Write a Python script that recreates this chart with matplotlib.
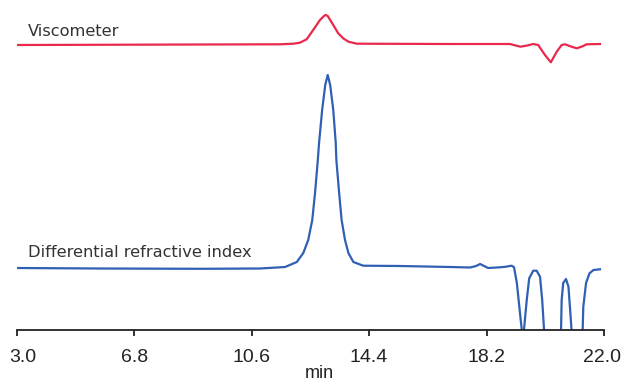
import matplotlib.pyplot as plt
from matplotlib.transforms import ScaledTranslation

# retention time (min) and detector response (arbitrary units)
ri_time = [3.00, 5.69, 8.92, 10.87, 11.68, 12.06, 12.27, 12.43, 12.56, 12.65,
           12.74, 12.78, 12.88, 12.98, 13.06, 13.14, 13.24, 13.32, 13.34,
           13.43, 13.51, 13.62, 13.73, 13.89, 14.21, 15.40, 17.02, 17.67,
           17.86, 17.99, 18.12, 18.25, 18.64, 18.83, 19.01, 19.09, 19.18,
           19.26, 19.34, 19.38, 19.41, 19.50, 19.58, 19.71, 19.82, 19.93,
           20.00, 20.06, 20.09, 20.58, 20.61, 20.63, 20.68, 20.77, 20.85,
           20.92, 20.95, 20.98, 21.28, 21.31, 21.33, 21.42, 21.53, 21.66,
           21.87]
ri_signal = [63, 62.5, 62.2, 62.5, 64, 69, 78, 91, 111, 138,
             171, 188, 221, 246, 256, 246, 221, 188, 171,
             138, 111, 91, 78, 69, 65.3, 65, 64, 63.5,
             65, 67, 65, 63, 63.7, 64.3, 65.3, 63.7, 48,
             24.3, 1, -20, 1, 31, 52.7, 60.3, 60.3, 54.3,
             31, 1, -20, -20, 1, 31, 48, 52, 44.3,
             14.3, 1, -20, -20, 1, 24.3, 48, 57.7, 61,
             61.7]

visc_time = [3.00, 8.92, 11.52, 11.95, 12.16, 12.38, 12.59, 12.81, 12.95,
             13.00, 13.06, 13.24, 13.40, 13.56, 13.73, 14.00, 17.02, 18.64,
             18.96, 19.29, 19.52, 19.71, 19.87, 20.09, 20.28, 20.47, 20.63,
             20.74, 20.93, 21.12, 21.29, 21.44, 21.87]
visc_signal = [286, 286.5, 286.7, 287.3, 288.3, 291.7, 301, 311, 315.3,
               316, 315, 306, 297.7, 292.7, 289.3, 287.3, 287, 287,
               287, 284.3, 285.5, 287, 286, 276, 268.7, 279.3, 286,
               286.7, 284.5, 282.7, 284.5, 286.7, 287]

tick_vals = [3.0, 6.8, 10.6, 14.4, 18.2, 22.0]
tick_labels = ['3.0', '6.8', '10.6', '14.4', '18.2', '22.0']

fig = plt.figure(figsize=(6.23, 3.81), dpi=100)
ax = fig.add_axes([16.8 / 623, 51 / 381, 587.2 / 623, 325 / 381])

ax.plot(visc_time, visc_signal, color='#e8294c', lw=1.6)
ax.plot(ri_time, ri_signal, color='#2f60b3', lw=1.6)

ax.set_xlim(3.0, 22.0)
ax.set_ylim(1, 326)

ax.text(3.37, 295, 'Viscometer', fontsize=11.7, color='#333333')
ax.text(3.37, 74, 'Differential refractive index', fontsize=11.7, color='#333333')

for s in ['left', 'top', 'right']:
    ax.spines[s].set_visible(False)
ax.spines['bottom'].set_linewidth(1.3)
ax.spines['bottom'].set_color('#222222')
ax.set_yticks([])
ax.set_xticks(tick_vals)
ax.set_xticklabels(tick_labels, fontsize=14, family='Liberation Sans', color='#222222')
ax.tick_params(axis='x', length=4.5, width=1.3, color='#222222', pad=9)

# end labels are pulled inside the figure
lbls = ax.get_xticklabels()
lbls[0].set_transform(lbls[0].get_transform() + ScaledTranslation(6 / 100, 0, fig.dpi_scale_trans))
lbls[-1].set_horizontalalignment('right')
lbls[-1].set_transform(lbls[-1].get_transform() + ScaledTranslation(17 / 100, 0, fig.dpi_scale_trans))

fig.text(319 / 623, 3 / 381, 'min', fontsize=13, family='Liberation Sans',
         color='#222222', ha='center', va='baseline')

fig.savefig('out.png', dpi=100)
